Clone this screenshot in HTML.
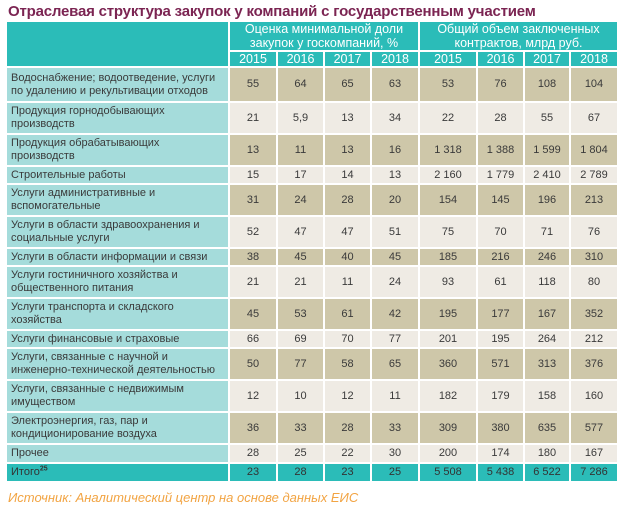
<!DOCTYPE html>
<html><head><meta charset="utf-8"><style>
body{margin:0;background:#fff;width:631px;height:514px;overflow:hidden;font-family:"Liberation Sans","DejaVu Sans",sans-serif}
.t{position:absolute;left:8px;top:3px;font-size:15px;font-weight:bold;color:#7b2452;letter-spacing:-0.2px}
table{position:absolute;left:5px;top:20px;border-collapse:separate;border-spacing:2px;font-size:11px;color:#3a3a3a;table-layout:fixed}
td{padding:0;text-align:center;line-height:13px;overflow:hidden}
td.l{text-align:left;background:#a5dcdb;padding-left:4px;line-height:13px}
.h{background:#2bbcb8;color:#fff;font-size:12.5px;line-height:14px}
.d td{background:#cec7a9}.w td{background:#efebe4}
.d td.l,.w td.l{background:#a5dcdb}
.tot td{background:#2bbcb8;color:#333}
.s{position:absolute;left:8px;top:490px;font-style:italic;color:#f2a443;font-size:13px}
</style></head><body>
<div class="t">Отраслевая структура закупок у компаний с государственным участием</div>
<table>
<colgroup><col style="width:221px"><col style="width:46px"><col style="width:45px"><col style="width:45px"><col style="width:46px"><col style="width:56px"><col style="width:45px"><col style="width:44px"><col style="width:46px"></colgroup>
<tr style="height:27px"><td class="h" rowspan="2"></td><td class="h" colspan="4">Оценка минимальной доли<br>закупок у госкомпаний, %</td><td class="h" colspan="4">Общий объем заключенных<br>контрактов, млрд руб.</td></tr>
<tr style="height:14px" class="h"><td class="h">2015</td><td class="h">2016</td><td class="h">2017</td><td class="h">2018</td><td class="h">2015</td><td class="h">2016</td><td class="h">2017</td><td class="h">2018</td></tr>
<tr class="d" style="height:33px"><td class="l">Водоснабжение; водоотведение, услуги<br>по удалению и рекультивации отходов</td><td>55</td><td>64</td><td>65</td><td>63</td><td>53</td><td>76</td><td>108</td><td>104</td></tr>
<tr class="w" style="height:30px"><td class="l">Продукция горнодобывающих<br>производств</td><td>21</td><td>5,9</td><td>13</td><td>34</td><td>22</td><td>28</td><td>55</td><td>67</td></tr>
<tr class="d" style="height:30px"><td class="l">Продукция обрабатывающих<br>производств</td><td>13</td><td>11</td><td>13</td><td>16</td><td>1 318</td><td>1 388</td><td>1 599</td><td>1 804</td></tr>
<tr class="w" style="height:16px"><td class="l">Строительные работы</td><td>15</td><td>17</td><td>14</td><td>13</td><td>2 160</td><td>1 779</td><td>2 410</td><td>2 789</td></tr>
<tr class="d" style="height:30px"><td class="l">Услуги административные и<br>вспомогательные</td><td>31</td><td>24</td><td>28</td><td>20</td><td>154</td><td>145</td><td>196</td><td>213</td></tr>
<tr class="w" style="height:30px"><td class="l">Услуги в области здравоохранения и<br>социальные услуги</td><td>52</td><td>47</td><td>47</td><td>51</td><td>75</td><td>70</td><td>71</td><td>76</td></tr>
<tr class="d" style="height:16px"><td class="l">Услуги в области информации и связи</td><td>38</td><td>45</td><td>40</td><td>45</td><td>185</td><td>216</td><td>246</td><td>310</td></tr>
<tr class="w" style="height:30px"><td class="l">Услуги гостиничного хозяйства и<br>общественного питания</td><td>21</td><td>21</td><td>11</td><td>24</td><td>93</td><td>61</td><td>118</td><td>80</td></tr>
<tr class="d" style="height:30px"><td class="l">Услуги транспорта и складского<br>хозяйства</td><td>45</td><td>53</td><td>61</td><td>42</td><td>195</td><td>177</td><td>167</td><td>352</td></tr>
<tr class="w" style="height:16px"><td class="l">Услуги финансовые и страховые</td><td>66</td><td>69</td><td>70</td><td>77</td><td>201</td><td>195</td><td>264</td><td>212</td></tr>
<tr class="d" style="height:30px"><td class="l">Услуги, связанные с научной и<br>инженерно-технической деятельностью</td><td>50</td><td>77</td><td>58</td><td>65</td><td>360</td><td>571</td><td>313</td><td>376</td></tr>
<tr class="w" style="height:30px"><td class="l">Услуги, связанные с недвижимым<br>имуществом</td><td>12</td><td>10</td><td>12</td><td>11</td><td>182</td><td>179</td><td>158</td><td>160</td></tr>
<tr class="d" style="height:30px"><td class="l">Электроэнергия, газ, пар и<br>кондиционирование воздуха</td><td>36</td><td>33</td><td>28</td><td>33</td><td>309</td><td>380</td><td>635</td><td>577</td></tr>
<tr class="w" style="height:17px"><td class="l">Прочее</td><td>28</td><td>25</td><td>22</td><td>30</td><td>200</td><td>174</td><td>180</td><td>167</td></tr>
<tr class="tot" style="height:17px"><td class="l" style="background:#2bbcb8">Итого<sup style="font-size:7px;font-weight:bold;line-height:0">25</sup></td><td>23</td><td>28</td><td>23</td><td>25</td><td>5 508</td><td>5 438</td><td>6 522</td><td>7 286</td></tr>
</table>
<div class="s">Источник: Аналитический центр на основе данных ЕИС</div>
</body></html>
